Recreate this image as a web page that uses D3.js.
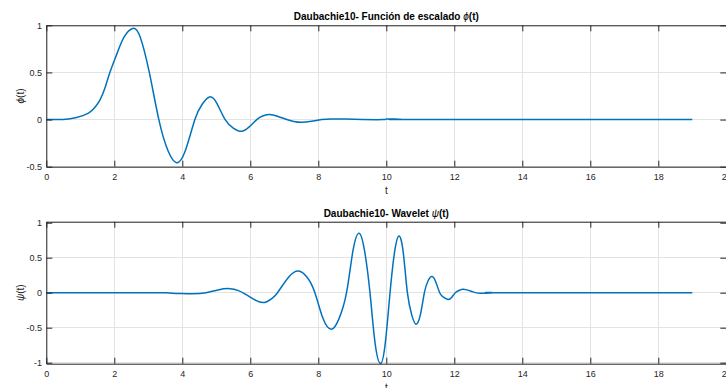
<!DOCTYPE html>
<html>
<head>
<meta charset="utf-8">
<script src="https://cdn.jsdelivr.net/npm/d3@7"></script>
<style>
  html, body { margin: 0; padding: 0; background: #ffffff; overflow: hidden; }
  svg { display: block; font-family: "Liberation Sans", Arial, Helvetica, sans-serif; }
</style>
</head>
<body>
<svg id="fig" width="726" height="388"></svg>
<script>
// Daubechies-10 scaling function phi(t): sample points (t, value)
const phiT = [0, 0.5, 0.89, 1.24, 1.42, 1.58, 1.73, 1.87, 2.09, 2.29, 2.54, 2.76, 3.03, 3.31, 3.58, 3.83, 4.08, 4.37,
  4.58, 4.80, 5.02, 5.26, 5.50, 5.73, 5.96, 6.19, 6.38, 6.57, 6.80, 7.07, 7.28, 7.51, 7.80, 8.10,
  8.40, 8.80, 9.30, 9.90, 10.0, 10.25, 10.35, 11.0, 19.0];
const phiV = [0, 0.002, 0.021, 0.068, 0.125, 0.21, 0.34, 0.5, 0.71, 0.877, 0.967, 0.877, 0.5, 0, -0.33, -0.457, -0.34, 0,
  0.16, 0.24, 0.17, 0, -0.09, -0.124, -0.08, 0, 0.04, 0.055, 0.036, 0, -0.02, -0.029, -0.018, 0,
  0.006, 0.005, 0.001, 0, 0.006, 0.006, 0, 0, 0];

// Daubechies-10 wavelet psi(t): sample points (t, value)
const psiT = [0, 3.0, 3.5, 3.9, 4.3, 4.7, 5.05, 5.4, 5.65, 5.8, 5.95, 6.16, 6.41, 6.64, 6.8, 7.15, 7.43,
  7.67, 7.90, 8.14, 8.39, 8.61, 8.83, 9.02, 9.20, 9.36, 9.52, 9.67, 9.83, 9.97, 10.11, 10.24, 10.37,
  10.50, 10.62, 10.75, 10.87, 11.0, 11.12, 11.22, 11.33, 11.45, 11.57, 11.69, 11.81, 11.92, 12.03,
  12.15, 12.27, 12.50, 12.78, 13.1, 13.5, 19.0];
const psiV = [0, 0, -0.002, -0.01, -0.016, 0, 0.04, 0.058, 0.03, -0.005, -0.05, -0.11, -0.14, -0.08, 0, 0.235, 0.31,
  0.22, 0, -0.37, -0.523, -0.37, 0, 0.60, 0.85, 0.60, 0, -0.72, -1.01, -0.72, 0, 0.57, 0.81,
  0.57, 0, -0.32, -0.45, -0.32, 0, 0.16, 0.23, 0.16, 0, -0.068, -0.096, -0.068, 0,
  0.035, 0.049, 0.02, -0.008, 0.002, 0, 0];

// Axis ticks
const xTicks = [0, 2, 4, 6, 8, 10, 12, 14, 16, 18, 20];
const phiTicks = [-0.5, 0, 0.5, 1];
const psiTicks = [-1, -0.5, 0, 0.5, 1];

const svg = d3.select("#fig");
const left = 46.3, right = 726.3;
const axisColor = "#262626";
const gridColor = "#e3e3e3";
const lineColor = "#0072bd";

function panel(cfg) {
  const x = d3.scaleLinear().domain([0, 20]).range([left, right]);
  const y = d3.scaleLinear().domain(cfg.yDomain).range([cfg.bottom, cfg.top]);
  const g = svg.append("g");

  // grid
  g.append("g").selectAll("line").data(xTicks).join("line")
    .attr("x1", d => x(d)).attr("x2", d => x(d))
    .attr("y1", cfg.top).attr("y2", cfg.bottom)
    .attr("stroke", gridColor).attr("stroke-width", 1).attr("shape-rendering", "crispEdges");
  g.append("g").selectAll("line").data(cfg.yTicks).join("line")
    .attr("x1", left).attr("x2", right)
    .attr("y1", d => y(d)).attr("y2", d => y(d))
    .attr("stroke", gridColor).attr("stroke-width", 1).attr("shape-rendering", "crispEdges");

  // curve
  const pts = cfg.t.map((t, i) => [t, cfg.v[i]]);
  g.append("path").datum(pts)
    .attr("fill", "none").attr("stroke", lineColor).attr("stroke-width", 1.5)
    .attr("stroke-linejoin", "round")
    .attr("d", d3.line().x(d => x(d[0])).y(d => y(d[1])).curve(d3.curveNatural));

  const fmt = d => (d < 0 ? "-" : "") + String(Math.abs(d));
  const style = sel => {
    sel.select(".domain").attr("stroke", axisColor).attr("stroke-width", 1);
    sel.selectAll(".tick line").attr("stroke", axisColor).attr("stroke-width", 1);
    sel.selectAll(".tick text").attr("fill", axisColor).attr("font-size", 9)
      .attr("font-family", "'Liberation Sans', Arial, sans-serif");
  };

  g.append("g").attr("transform", `translate(0,${cfg.bottom})`)
    .call(d3.axisBottom(x).tickValues(xTicks).tickFormat(fmt).tickSizeInner(-6).tickSizeOuter(0).tickPadding(6.5))
    .call(style);
  g.append("g").attr("transform", `translate(0,${cfg.top})`)
    .call(d3.axisTop(x).tickValues(xTicks).tickFormat("").tickSizeInner(-6).tickSizeOuter(0))
    .call(style);
  g.append("g").attr("transform", `translate(${left},0)`)
    .call(d3.axisLeft(y).tickValues(cfg.yTicks).tickFormat(fmt).tickSizeInner(-6).tickSizeOuter(0).tickPadding(4.3))
    .call(style);
  g.append("g").attr("transform", `translate(${right},0)`)
    .call(d3.axisRight(y).tickValues(cfg.yTicks).tickFormat("").tickSizeInner(-6).tickSizeOuter(0))
    .call(style);

  // title
  const title = g.append("text")
    .attr("x", (left + right) / 2).attr("y", cfg.top - 5)
    .attr("text-anchor", "middle").attr("font-size", 10).attr("font-weight", "bold").attr("fill", "#000");
  title.append("tspan").text(cfg.title);
  title.append("tspan").attr("font-style", "italic").attr("font-weight", "normal").text(cfg.sym);
  title.append("tspan").text("(t)");

  // x label
  g.append("text")
    .attr("x", (left + right) / 2).attr("y", cfg.bottom + 27.5)
    .attr("text-anchor", "middle").attr("font-size", 10).attr("fill", axisColor).text("t");

  // y label
  const yl = g.append("text")
    .attr("transform", `translate(20.7,${(cfg.top + cfg.bottom) / 2}) rotate(-90)`)
    .attr("text-anchor", "middle").attr("dy", "0.35em").attr("font-size", 10).attr("fill", axisColor);
  yl.append("tspan").attr("font-style", "italic").text(cfg.sym);
  yl.append("tspan").text("(t)");
}

panel({
  top: 25.3, bottom: 166.7, yDomain: [-0.5, 1], yTicks: phiTicks,
  t: phiT, v: phiV, title: "Daubachie10- Función de escalado ", sym: "\u03D5"
});
panel({
  top: 221.7, bottom: 363.7, yDomain: [-1.0143, 1.0143], yTicks: psiTicks,
  t: psiT, v: psiV, title: "Daubachie10- Wavelet ", sym: "\u03C8"
});
</script>
</body>
</html>
